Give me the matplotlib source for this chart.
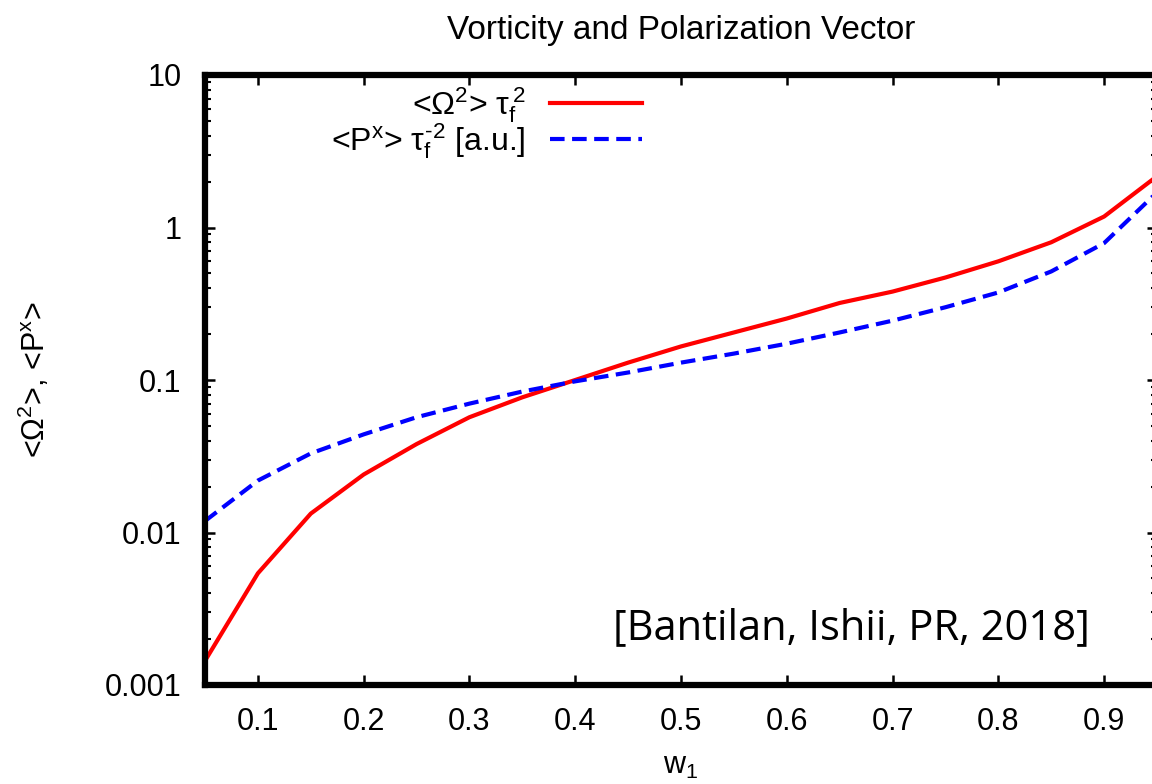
import matplotlib
matplotlib.use('Agg')
import matplotlib.pyplot as plt
from matplotlib.ticker import FixedLocator, LogLocator, NullFormatter

plt.rcParams['font.family'] = ['Liberation Sans', 'DejaVu Sans']
plt.rcParams['mathtext.fontset'] = 'custom'
plt.rcParams['mathtext.rm'] = 'Liberation Sans'
plt.rcParams['mathtext.it'] = 'Liberation Sans'

# data
w1 = [0.05, 0.10, 0.15, 0.20, 0.25, 0.30, 0.35, 0.40, 0.45, 0.50,
      0.55, 0.60, 0.65, 0.70, 0.75, 0.80, 0.85, 0.90, 0.95]
omega2 = [0.00144, 0.0054, 0.0133, 0.024, 0.038, 0.057, 0.077, 0.100, 0.130, 0.166,
          0.205, 0.253, 0.320, 0.380, 0.470, 0.600, 0.800, 1.18, 2.17]
polx = [0.0119, 0.0219, 0.033, 0.044, 0.057, 0.070, 0.084, 0.098, 0.112, 0.130,
        0.149, 0.173, 0.205, 0.245, 0.300, 0.375, 0.515, 0.79, 1.70]
xticks = [0.1, 0.2, 0.3, 0.4, 0.5, 0.6, 0.7, 0.8, 0.9]
yticks = [0.001, 0.01, 0.1, 1, 10]
ytick_labels = ['0.001', '0.01', '0.1', '1', '10']

fig = plt.figure(figsize=(11.52, 7.84), dpi=100)
ax = fig.add_axes([205/1152, 1-685/784, 952/1152, 610/784])

ax.plot(w1, omega2, color='#ff0000', lw=3, label=r'<$\Omega^{2}$> $\tau_{f}^{\,2}$')
ax.plot(w1, polx, color='#0000ff', lw=3, ls=(0, (3.5, 1.8)),
        label=r'<P$^{x}$> $\tau_{f}^{\text{-}2}$ [a.u.]')

ax.set_yscale('log')
ax.set_xlim(0.05, 0.95)
ax.set_ylim(0.001, 10)
ax.xaxis.set_major_locator(FixedLocator(xticks))
ax.set_xticklabels([str(t) for t in xticks])
ax.set_yticks(yticks)
ax.set_yticklabels(ytick_labels)
ax.yaxis.set_minor_locator(LogLocator(base=10, subs=range(2, 10)))
ax.yaxis.set_minor_formatter(NullFormatter())

ax.tick_params(which='both', direction='in', top=True, right=True, labelsize=22)
ax.tick_params(axis='x', which='major', length=7.5, width=1.8, pad=16)
ax.tick_params(axis='y', which='major', length=7.5, width=1.8, pad=17)
ax.tick_params(which='minor', length=4, width=1.5)
for s in ax.spines.values():
    s.set_linewidth(4.5)

ax.set_title('Vorticity and Polarization Vector', fontsize=24, pad=26)
ax.set_xlabel(r'w$_{1}$', fontsize=22, labelpad=10)
ax.set_ylabel(r'<$\Omega^{2}$>, <P$^{x}$>', fontsize=22, labelpad=38)

ax.legend(loc='upper right', bbox_to_anchor=(0.483, 1.02), frameon=False,
          markerfirst=False, fontsize=23, handlelength=2.9,
          handletextpad=0.75, labelspacing=-0.12, borderaxespad=0.3)

ax.text(0.93, 0.093, '[Bantilan, Ishii, PR, 2018]', transform=ax.transAxes,
        ha='right', va='center', fontsize=30, family='Open Sans')

fig.savefig('out.png', dpi=100)
